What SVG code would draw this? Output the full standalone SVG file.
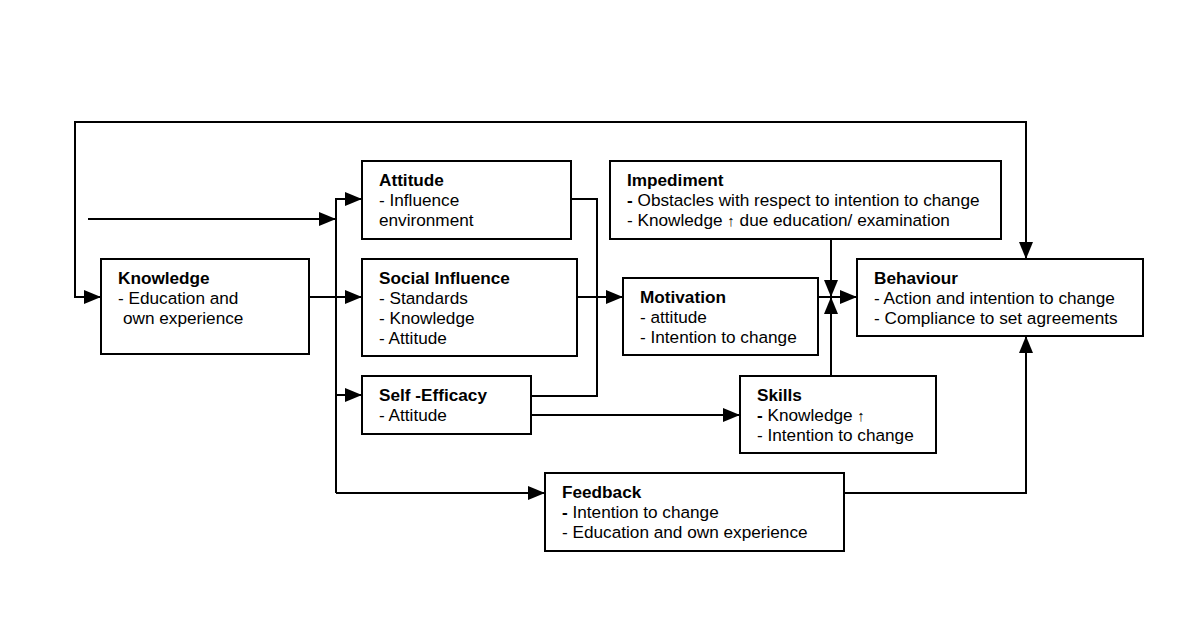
<svg xmlns="http://www.w3.org/2000/svg" width="1200" height="623" viewBox="0 0 1200 623">
<style>
rect.box{fill:#fff;stroke:#000;stroke-width:2}
text{font-family:"Liberation Sans",Arial,sans-serif;font-size:17.2px;fill:#000}
.b{font-weight:bold}
.ar{font-family:"Liberation Sans","DejaVu Sans",sans-serif;font-size:15px;fill:#000}
.c{fill:none;stroke:#000;stroke-width:2}
</style>
<defs>
<marker id="a" markerUnits="userSpaceOnUse" markerWidth="18" markerHeight="16" refX="17" refY="8" orient="auto"><path d="M0,1 L17,8 L0,15 z" fill="#000"/></marker>
</defs>
<rect width="1200" height="623" fill="#fff"/>
<g id="connectors">
<path class="c" d="M1026,122 L75,122 L75,297 L101,297" marker-end="url(#a)"/>
<path class="c" d="M75,122 L1026,122 L1026,259" marker-end="url(#a)"/>
<path class="c" d="M88,219 L336,219" marker-end="url(#a)"/>
<path class="c" d="M336,493 L336,199 L362,199" marker-end="url(#a)"/>
<path class="c" d="M309,297 L362,297" marker-end="url(#a)"/>
<path class="c" d="M336,395 L362,395" marker-end="url(#a)"/>
<path class="c" d="M336,493 L545,493" marker-end="url(#a)"/>
<path class="c" d="M571,199 L597,199 L597,396 L531,396"/>
<path class="c" d="M577,297 L623,297" marker-end="url(#a)"/>
<path class="c" d="M818,297 L857,297" marker-end="url(#a)"/>
<path class="c" d="M831,239 L831,297" marker-end="url(#a)"/>
<path class="c" d="M831,376 L831,297" marker-end="url(#a)"/>
<path class="c" d="M531,415 L740,415" marker-end="url(#a)"/>
<path class="c" d="M844,493 L1026,493 L1026,336" marker-end="url(#a)"/>
</g>
<g id="knowledge">
<rect class="box" x="101" y="259" width="208" height="95"/>
<text x="118" y="284" class="b">Knowledge</text>
<text x="118" y="304">- Education and</text>
<text x="123" y="324">own experience</text>
</g>
<g id="attitude">
<rect class="box" x="362" y="161" width="209" height="78"/>
<text x="379" y="186" class="b">Attitude</text>
<text x="379" y="206">- Influence</text>
<text x="379" y="226">environment</text>
</g>
<g id="social-influence">
<rect class="box" x="362" y="259" width="215" height="97"/>
<text x="379" y="284" class="b">Social Influence</text>
<text x="379" y="304">- Standards</text>
<text x="379" y="324">- Knowledge</text>
<text x="379" y="344">- Attitude</text>
</g>
<g id="self-efficacy">
<rect class="box" x="362" y="376" width="169" height="58"/>
<text x="379" y="401" class="b">Self -Efficacy</text>
<text x="379" y="421">- Attitude</text>
</g>
<g id="impediment">
<rect class="box" x="610" y="161" width="391" height="78"/>
<text x="627" y="186" class="b">Impediment</text>
<text x="627" y="206"><tspan class="b">-</tspan> Obstacles with respect to intention to change</text>
<text x="627" y="226">- Knowledge <tspan class="ar">↑&#xFE0E;</tspan> due education/ examination</text>
</g>
<g id="motivation">
<rect class="box" x="623" y="278" width="195" height="77"/>
<text x="640" y="303" class="b">Motivation</text>
<text x="640" y="323">- attitude</text>
<text x="640" y="343">- Intention to change</text>
</g>
<g id="behaviour">
<rect class="box" x="857" y="259" width="286" height="77"/>
<text x="874" y="284" class="b">Behaviour</text>
<text x="874" y="304">- Action and intention to change</text>
<text x="874" y="324">- Compliance to set agreements</text>
</g>
<g id="skills">
<rect class="box" x="740" y="376" width="196" height="77"/>
<text x="757" y="401" class="b">Skills</text>
<text x="757" y="421"><tspan class="b">-</tspan> Knowledge <tspan class="ar">↑&#xFE0E;</tspan></text>
<text x="757" y="441">- Intention to change</text>
</g>
<g id="feedback">
<rect class="box" x="545" y="473" width="299" height="78"/>
<text x="562" y="498" class="b">Feedback</text>
<text x="562" y="518"><tspan class="b">-</tspan> Intention to change</text>
<text x="562" y="538">- Education and own experience</text>
</g>
</svg>
